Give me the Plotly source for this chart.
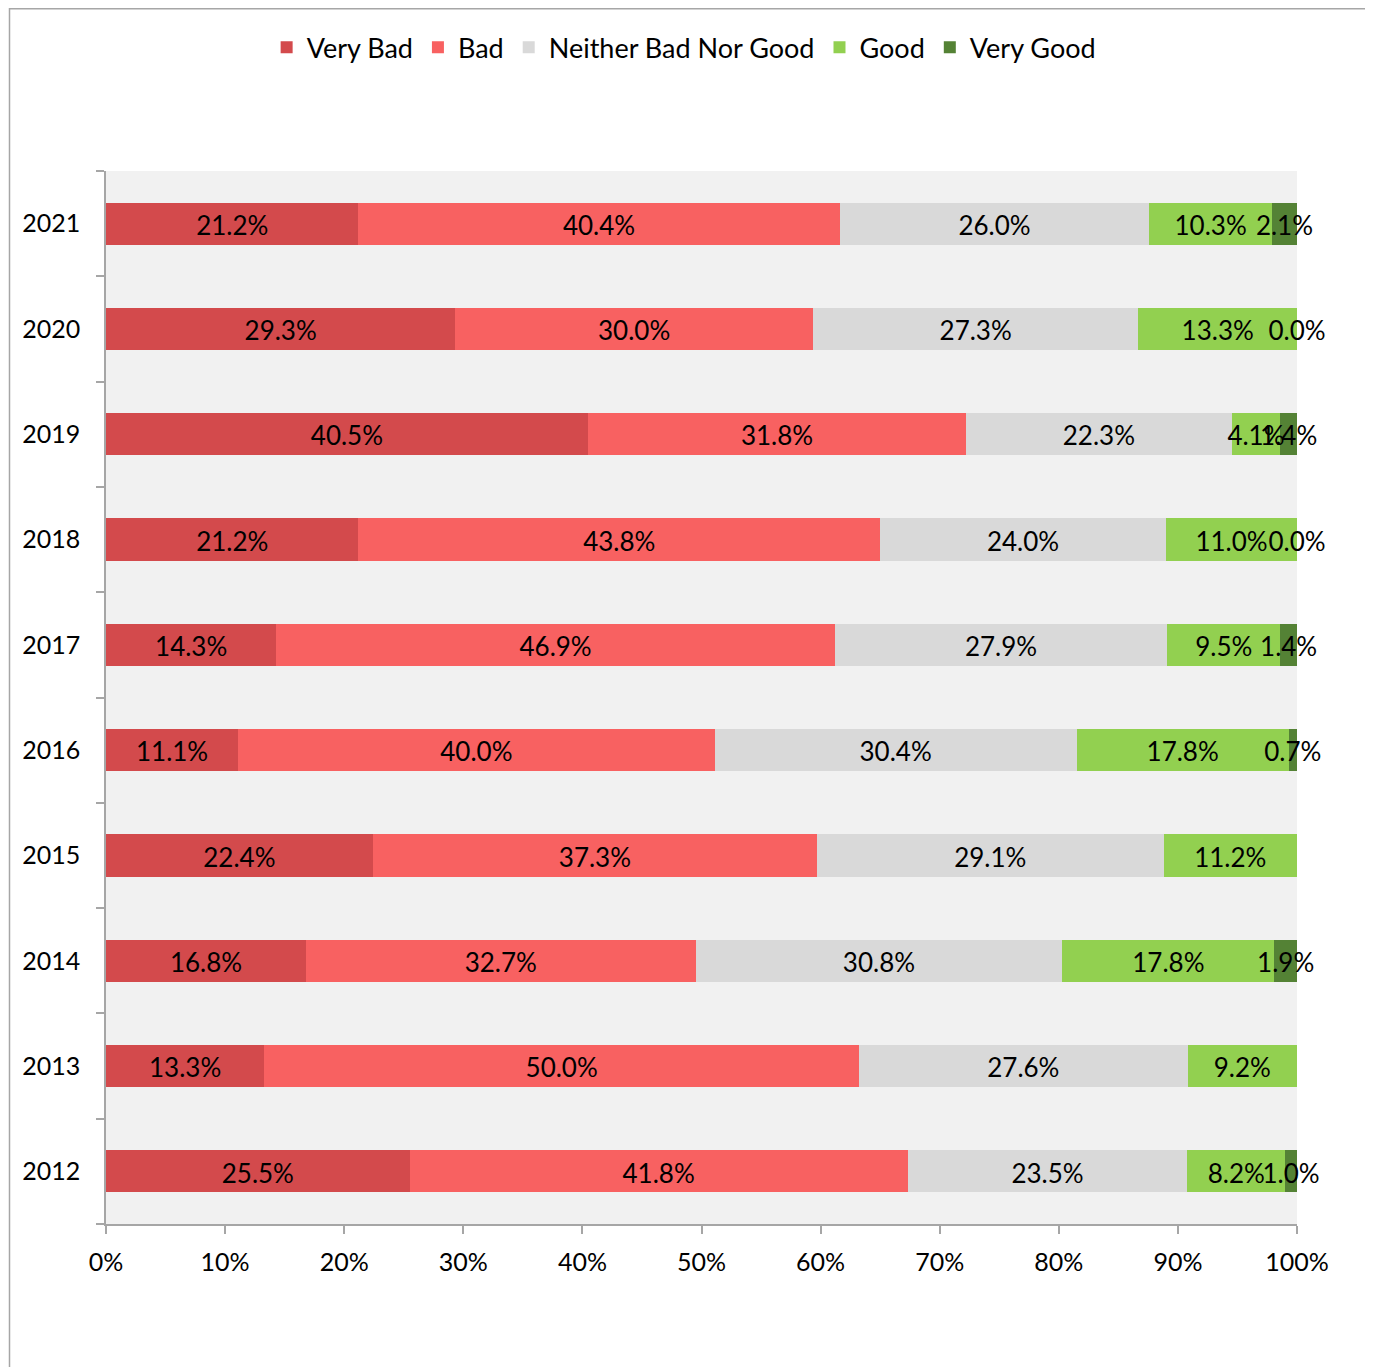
import plotly.graph_objects as go

years = ["2012", "2013", "2014", "2015", "2016", "2017", "2018", "2019", "2020", "2021"]
series_names = ["Very Bad", "Bad", "Neither Bad Nor Good", "Good", "Very Good"]
very_bad = [25.5, 13.3, 16.8, 22.4, 11.1, 14.3, 21.2, 40.5, 29.3, 21.2]
bad = [41.8, 50.0, 32.7, 37.3, 40.0, 46.9, 43.8, 31.8, 30.0, 40.4]
neither = [23.5, 27.6, 30.8, 29.1, 30.4, 27.9, 24.0, 22.3, 27.3, 26.0]
good = [8.2, 9.2, 17.8, 11.2, 17.8, 9.5, 11.0, 4.1, 13.3, 10.3]
very_good = [1.0, None, 1.9, None, 0.7, 1.4, 0.0, 1.4, 0.0, 2.1]
colors = ["#D34A4C", "#F86161", "#D9D9D9", "#92D050", "#548235"]
x_ticks = [0, 10, 20, 30, 40, 50, 60, 70, 80, 90, 100]

FONT = "Lato"
LABEL_SHIFT = 0.045  # label baseline offset, in category units
series = [very_bad, bad, neither, good, very_good]

fig = go.Figure()
for name, vals, col in zip(series_names, series, colors):
    fig.add_trace(go.Bar(
        y=years, x=[v if v is not None else 0 for v in vals], name=name,
        orientation="h", marker=dict(color=col, line=dict(width=0)),
        hoverinfo="skip",
    ))

# label positions: centers of normalized segments
totals = [sum(v for v in col if v is not None) for col in zip(*series)]
cum = [0.0] * len(years)
lx, ly, lt = [], [], []
for vals in series:
    for i, v in enumerate(vals):
        if v is None:
            continue
        s = 100.0 * v / totals[i]
        lx.append(cum[i] + s / 2)
        ly.append(i - LABEL_SHIFT)
        lt.append(f"{v:.1f}%")
        cum[i] += s
fig.add_trace(go.Scatter(
    x=lx, y=ly, yaxis="y2", text=lt, mode="text", showlegend=False, cliponaxis=False,
    textposition="middle center", textfont=dict(family=FONT, size=26, color="#000"),
    hoverinfo="skip",
))

fig.update_layout(
    width=1373, height=1367,
    margin=dict(l=98, r=84, t=163, b=151),
    barmode="stack", barnorm="percent", bargap=0.6,
    paper_bgcolor="white", plot_bgcolor="#F1F1F1",
    font=dict(family=FONT, size=25, color="#000"),
    showlegend=True,
    legend=dict(orientation="h", x=0.485, xanchor="center", y=1.117, yanchor="middle",
                font=dict(family=FONT, size=27), traceorder="normal",
                itemwidth=30, bgcolor="rgba(0,0,0,0)"),
    xaxis=dict(range=[0, 100], tickvals=x_ticks, ticktext=[f"{t}%" for t in x_ticks],
               showgrid=False, zeroline=False, showline=True, linecolor="#A6A6A6", linewidth=1.5,
               ticks="outside", ticklen=8, tickcolor="#A6A6A6", tickwidth=1.5,
               ticklabelstandoff=7, tickfont=dict(family=FONT, size=25), fixedrange=True),
    yaxis=dict(type="category", categoryorder="array", categoryarray=years,
               range=[-0.5, len(years) - 0.5],
               showgrid=False, zeroline=False, showline=True, linecolor="#A6A6A6", linewidth=1.5,
               ticks="outside", ticklen=8, tickcolor="#A6A6A6", tickwidth=1.5, tickson="boundaries",
               ticklabelstandoff=19, tickfont=dict(family=FONT, size=25), fixedrange=True),
    yaxis2=dict(overlaying="y", range=[-0.5, len(years) - 0.5], visible=False, fixedrange=True),
    shapes=[dict(type="rect", xref="paper", yref="paper",
                 x0=(9.5 - 106) / 1191, x1=(1366 - 106) / 1191,
                 y0=(1224 - 1420) / 1053, y1=(1224 - 8.8) / 1053,
                 line=dict(color="#A6A6A6", width=1.5), fillcolor="rgba(0,0,0,0)", layer="below")],
)

fig.write_html("out.html")
